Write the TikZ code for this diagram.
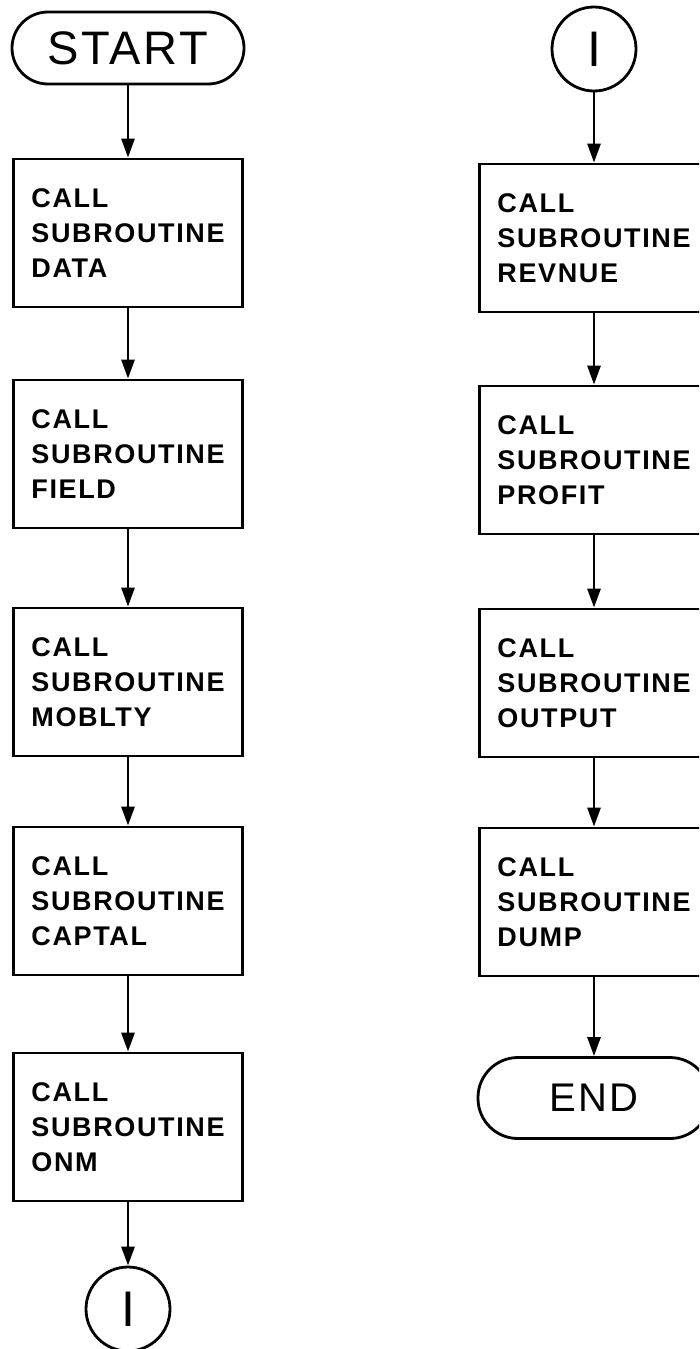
\documentclass[tikz,border=0pt]{standalone}
\usepackage{fontspec}
\setmainfont{Liberation Sans}[LetterSpace=6]
\usetikzlibrary{arrows.meta}

\begin{document}
\begin{tikzpicture}[x=1pt, y=-1pt,
    sub/.style={draw, line width=2.8pt, minimum width=229pt, minimum height=148pt,
                align=left, inner sep=0pt, font=\fontsize{27}{35}\selectfont\bfseries},
    term/.style={draw, line width=2.8pt, minimum width=232pt, inner sep=0pt},
    con/.style={draw, circle, line width=2.8pt, minimum size=84pt, inner sep=0pt,
                font=\fontsize{50}{50}\selectfont},
    flow/.style={line width=2.8pt, -{Triangle[length=19pt,width=13pt]}}]
             \useasboundingbox (0, 0) rectangle (699, 1349);
             \clip (0, 0) rectangle (699, 1349);

             \node[term, minimum height=72pt, rounded corners=36pt,
                   font=\fontsize{47}{47}\selectfont] (start) at (128, 48) {START};
             \node[sub] (data) at (128, 233) {CALL\\SUBROUTINE\\DATA};
             \node[sub] (field) at (128, 454) {CALL\\SUBROUTINE\\FIELD};
             \node[sub] (moblty) at (128, 682) {CALL\\SUBROUTINE\\MOBLTY};
             \node[sub] (captal) at (128, 901) {CALL\\SUBROUTINE\\CAPTAL};
             \node[sub] (onm) at (128, 1127) {CALL\\SUBROUTINE\\ONM};
             \node[con] (conA) at (128, 1309) {I};

             \node[con] (conB) at (594, 49) {I};
             \node[sub] (revnue) at (594, 238) {CALL\\SUBROUTINE\\REVNUE};
             \node[sub] (profit) at (594, 460) {CALL\\SUBROUTINE\\PROFIT};
             \node[sub] (output) at (594, 683) {CALL\\SUBROUTINE\\OUTPUT};
             \node[sub] (dump) at (594, 902) {CALL\\SUBROUTINE\\DUMP};
             \node[term, minimum height=81pt, rounded corners=40pt,
                   font=\fontsize{40}{40}\selectfont] (stop) at (594, 1098) {END};

             \draw[flow] (start) -- (data);
             \draw[flow] (data) -- (field);
             \draw[flow] (field) -- (moblty);
             \draw[flow] (moblty) -- (captal);
             \draw[flow] (captal) -- (onm);
             \draw[flow] (onm) -- (conA);

             \draw[flow] (conB) -- (revnue);
             \draw[flow] (revnue) -- (profit);
             \draw[flow] (profit) -- (output);
             \draw[flow] (output) -- (dump);
             \draw[flow] (dump) -- (stop);
\end{tikzpicture}
\end{document}
